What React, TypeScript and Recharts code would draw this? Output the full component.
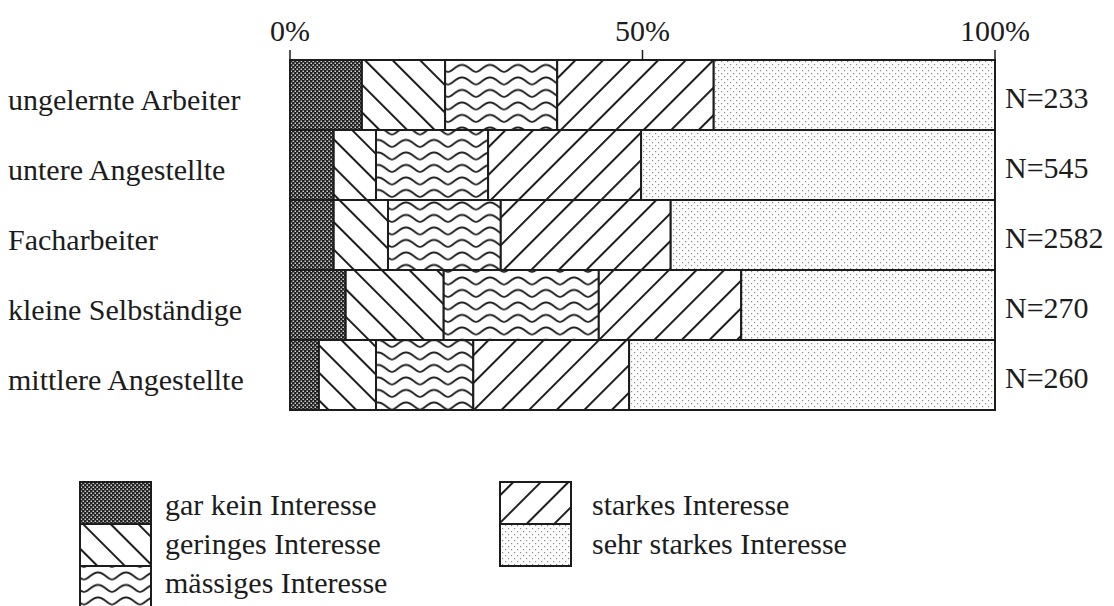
import React from "react";
import { BarChart, Bar, XAxis, YAxis, Legend, LabelList } from "recharts";

const CATEGORIES = [
  "ungelernte Arbeiter",
  "untere Angestellte",
  "Facharbeiter",
  "kleine Selbständige",
  "mittlere Angestellte",
];
const N_VALUES = [233, 545, 2582, 270, 260];

// Anteile in Prozent, von links nach rechts
const GAR_KEIN = [10.2, 6.2, 6.2, 7.9, 4.1];
const GERINGES = [11.8, 6.0, 7.7, 13.9, 8.1];
const MAESSIGES = [15.9, 15.9, 16.0, 22.0, 13.8];
const STARKES = [22.2, 21.7, 24.1, 20.2, 22.1];
const SEHR_STARKES = [39.9, 50.2, 46.0, 36.0, 51.9];

const X_TICKS = [0, 50, 100];

const SERIES = [
  { key: "garKein", label: "gar kein Interesse", pattern: "pat-dark" },
  { key: "geringes", label: "geringes Interesse", pattern: "pat-back" },
  { key: "maessiges", label: "mässiges Interesse", pattern: "pat-wave" },
  { key: "starkes", label: "starkes Interesse", pattern: "pat-fwd" },
  { key: "sehrStarkes", label: "sehr starkes Interesse", pattern: "pat-dots" },
];

const data = CATEGORIES.map((name, i) => ({
  name,
  n: N_VALUES[i],
  garKein: GAR_KEIN[i],
  geringes: GERINGES[i],
  maessiges: MAESSIGES[i],
  starkes: STARKES[i],
  sehrStarkes: SEHR_STARKES[i],
}));

const FONT = "'Liberation Serif', 'Times New Roman', serif";
const INK = "#1c1c1c";
const FS = 30;

function Patterns() {
  return (
    <svg width={0} height={0} style={{ position: "absolute" }}>
      <defs>
        <pattern id="pat-dark" patternUnits="userSpaceOnUse" width={4} height={4}>
          <rect width={4} height={4} fill="#222" />
          <rect x={0.5} y={0.5} width={1.5} height={1.5} fill="#cfcfcf" />
          <rect x={2.5} y={2.5} width={1.5} height={1.5} fill="#cfcfcf" />
        </pattern>
        <pattern
          id="pat-back"
          patternUnits="userSpaceOnUse"
          width={19.5}
          height={19.5}
          patternTransform="rotate(-45)"
        >
          <rect width={19.5} height={19.5} fill="#fff" />
          <line x1={1} y1={0} x2={1} y2={19.5} stroke={INK} strokeWidth={2} />
        </pattern>
        <pattern
          id="pat-fwd"
          patternUnits="userSpaceOnUse"
          width={19.5}
          height={19.5}
          patternTransform="rotate(45)"
        >
          <rect width={19.5} height={19.5} fill="#fff" />
          <line x1={1} y1={0} x2={1} y2={19.5} stroke={INK} strokeWidth={2} />
        </pattern>
        <pattern id="pat-wave" patternUnits="userSpaceOnUse" width={28} height={12.5}>
          <rect width={28} height={12.5} fill="#fff" />
          <path
            d="M0 9.5 C4 9.5 8 2.5 14 2.5 C20 2.5 24 9.5 28 9.5"
            fill="none"
            stroke={INK}
            strokeWidth={1.9}
          />
        </pattern>
        <pattern id="pat-dots" patternUnits="userSpaceOnUse" width={6} height={6}>
          <rect width={6} height={6} fill="#fdfdfd" />
          <rect x={1} y={1} width={1.2} height={1.2} fill="#8a8a8a" />
          <rect x={4} y={4} width={1.2} height={1.2} fill="#8a8a8a" />
        </pattern>
      </defs>
    </svg>
  );
}

function CategoryTick(props: any) {
  const { y, payload } = props;
  return (
    <text x={8} y={y} dy={15} fontSize={FS} fontFamily={FONT} fill={INK} textAnchor="start">
      {payload.value}
    </text>
  );
}

function PercentTick(props: any) {
  const { x, y, payload } = props;
  return (
    <text x={x} y={y} dy={-1} fontSize={FS} fontFamily={FONT} fill={INK} textAnchor="middle">
      {`${payload.value}%`}
    </text>
  );
}

function NLabel(props: any) {
  const x = Number(props.x);
  const y = Number(props.y);
  const w = Number(props.width);
  const h = Number(props.height);
  return (
    <text x={x + w + 10} y={y + h / 2 + 13} fontSize={FS} fontFamily={FONT} fill={INK}>
      {`N=${props.value}`}
    </text>
  );
}

function PatternLegend() {
  return (
    <svg width={1114} height={136} style={{ display: "block" }}>
      {SERIES.map((s, i) => {
        const col = i < 3 ? 0 : 1;
        const row = col === 0 ? i : i - 3;
        const boxX = col === 0 ? 80 : 500;
        const textX = col === 0 ? 165 : 592;
        return (
          <g key={s.key}>
            <rect
              x={boxX}
              y={12 + row * 42}
              width={71}
              height={42}
              fill={`url(#${s.pattern})`}
              stroke={INK}
              strokeWidth={2}
            />
            <text x={textX} y={45 + row * 39} fontSize={FS} fontFamily={FONT} fill={INK}>
              {s.label}
            </text>
          </g>
        );
      })}
    </svg>
  );
}

export default function App() {
  return (
    <div style={{ position: "absolute", left: 0, top: 0, width: 1114, height: 606, background: "#fff" }}>
      <Patterns />
      <BarChart
        width={1114}
        height={606}
        data={data}
        layout="vertical"
        barCategoryGap={0}
        margin={{ top: 0, right: 119, bottom: 196, left: 8 }}
      >
        <XAxis
          type="number"
          orientation="top"
          domain={[0, 100]}
          ticks={X_TICKS}
          height={60}
          tickSize={10}
          tickMargin={8}
          tick={<PercentTick />}
          axisLine={{ stroke: INK, strokeWidth: 1.5 }}
          tickLine={{ stroke: INK, strokeWidth: 1.5 }}
        />
        <YAxis
          type="category"
          dataKey="name"
          width={282}
          axisLine={false}
          tickLine={false}
          tick={<CategoryTick />}
        />
        <Legend
          layout="horizontal"
          verticalAlign="middle"
          align="center"
          content={<PatternLegend />}
          wrapperStyle={{ position: "absolute", left: 0, top: 470, width: 1114, height: 136 }}
        />
        {SERIES.map((s, i) => (
          <Bar
            key={s.key}
            dataKey={s.key}
            name={s.label}
            stackId="a"
            fill={`url(#${s.pattern})`}
            stroke={INK}
            strokeWidth={2}
            isAnimationActive={false}
          >
            {i === SERIES.length - 1 && <LabelList dataKey="n" content={<NLabel />} />}
          </Bar>
        ))}
      </BarChart>
    </div>
  );
}
